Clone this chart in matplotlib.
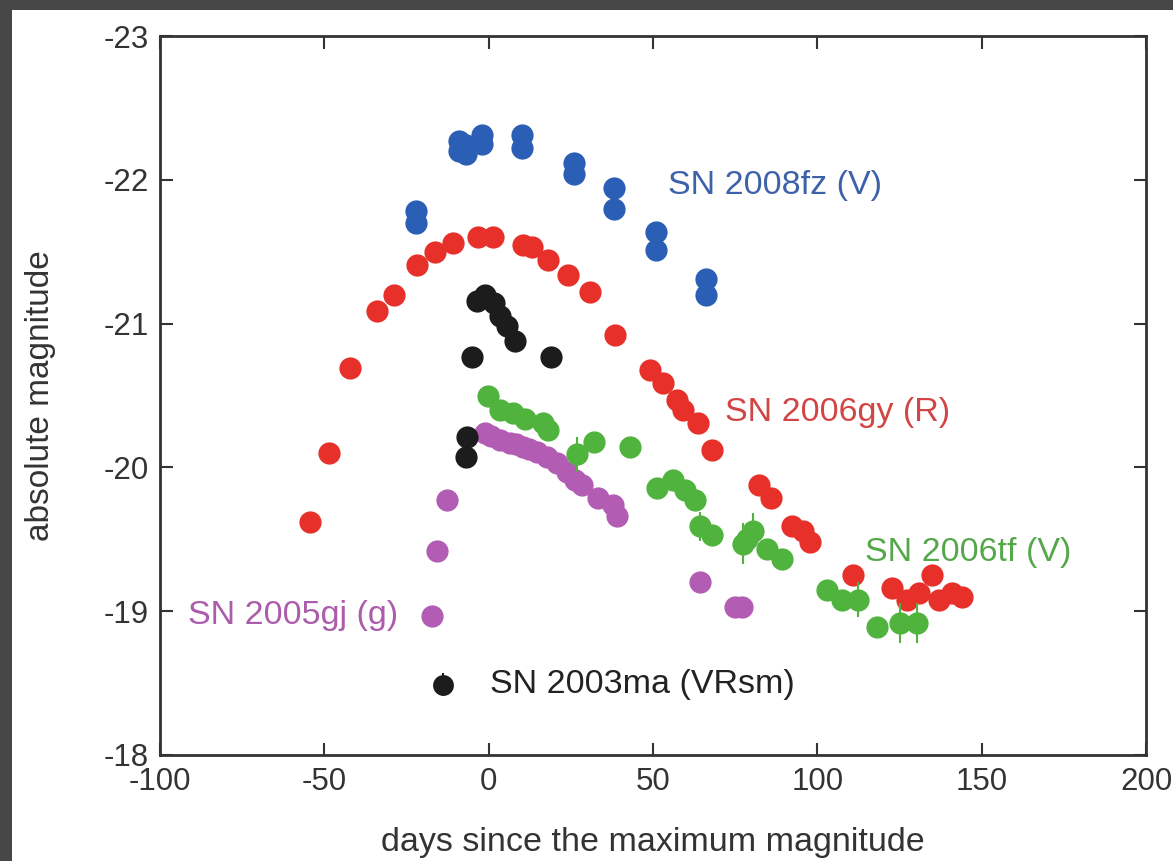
import matplotlib
matplotlib.use("Agg")
import matplotlib.pyplot as plt
from matplotlib.patches import Rectangle

plt.rcParams['font.family'] = ['Liberation Sans', 'DejaVu Sans']

# ---------------- data ----------------
fz_days = [-22, -22, -9, -9, -7, -7, -2, -2, 10, 10, 26, 26, 38, 38, 51, 51, 66, 66]
fz_mag = [-21.78, -21.70, -22.27, -22.20, -22.24, -22.18, -22.31, -22.25, -22.31, -22.22,
          -22.12, -22.04, -21.94, -21.80, -21.64, -21.51, -21.31, -21.20]

gy_days = [-54.5, -48.7, -42.3, -34.1, -28.9, -21.9, -16.4, -11, -3.3, 1.2, 10.3, 13.1, 18,
           24, 30.7, 38.3, 49, 53, 57.2, 59, 63.6, 67.8, 82.4, 86, 92.2, 95.5, 97.7, 110.7,
           122.6, 127.2, 131, 135, 137, 141, 144]
gy_mag = [-19.62, -20.10, -20.69, -21.09, -21.20, -21.41, -21.50, -21.56, -21.60, -21.60,
          -21.55, -21.53, -21.44, -21.34, -21.22, -20.92, -20.68, -20.59, -20.47, -20.40,
          -20.31, -20.12, -19.88, -19.79, -19.59, -19.56, -19.48, -19.25, -19.16, -19.08,
          -19.13, -19.25, -19.08, -19.13, -19.10]

ma_days = [-7, -6.5, -5, -3.5, -1, 1.5, 3.5, 5.5, 8, 19]
ma_mag = [-20.07, -20.21, -20.77, -21.16, -21.20, -21.14, -21.05, -20.98, -20.88, -20.77]

gj_days = [-17.3, -15.8, -12.8, -1.2, 0.8, 3.3, 6.4, 8.3, 10.3, 12.4, 14.6, 17.6, 20.7, 23.7,
           26.2, 28.3, 33.2, 37.7, 38.9, 64.2, 74.8, 77]
gj_mag = [-18.97, -19.42, -19.77, -20.24, -20.22, -20.19, -20.17, -20.16, -20.14, -20.13,
          -20.11, -20.07, -20.03, -19.97, -19.91, -19.88, -19.79, -19.74, -19.66, -19.20,
          -19.03, -19.03]

tf_days = [-0.3, 3.3, 7.3, 11, 16.4, 18, 27, 32.2, 42.9, 51.1, 56, 59.6, 62.7, 64.2, 68.1,
           77.3, 78.5, 80.3, 84.6, 89.4, 102.8, 107.4, 112.3, 118.3, 125, 130.2]
tf_mag = [-20.50, -20.40, -20.38, -20.34, -20.31, -20.26, -20.09, -20.18, -20.14, -19.86,
          -19.91, -19.84, -19.77, -19.59, -19.53, -19.47, -19.50, -19.56, -19.43, -19.36,
          -19.15, -19.08, -19.08, -18.89, -18.92, -18.92]
tf_err = [0.02, 0.02, 0.02, 0.02, 0.02, 0.02, 0.12, 0.03, 0.03, 0.02, 0.02, 0.02, 0.02, 0.10,
          0.03, 0.14, 0.03, 0.12, 0.03, 0.03, 0.02, 0.03, 0.12, 0.03, 0.14, 0.14]

legend_day = [-14]
legend_mag = [-18.49]
legend_err = [0.08]

x_ticks = [-100, -50, 0, 50, 100, 150, 200]
y_ticks = [-23, -22, -21, -20, -19, -18]

# ---------------- figure ----------------
W, H = 1173, 861
fig = plt.figure(figsize=(W / 100, H / 100), dpi=100)
fig.patch.set_facecolor('#474747')
fig.add_artist(Rectangle((12 / W, 0), 1 - 12 / W, 1 - 10 / H,
                         transform=fig.transFigure, facecolor='white',
                         edgecolor='none', zorder=-10))

ax = fig.add_axes([160 / W, 1 - 755 / H, (1146 - 160) / W, (755 - 36) / H])
ax.set_zorder(5)
ax.set_facecolor('white')

ms = 16
c_blue, c_red, c_black, c_green, c_mag = '#2a5fb5', '#e8302a', '#1c1c1c', '#4fb33e', '#b25db3'

ax.plot(fz_days, fz_mag, 'o', color=c_blue, ms=ms, mew=0)
ax.plot(gy_days, gy_mag, 'o', color=c_red, ms=ms, mew=0)
ax.plot(gj_days, gj_mag, 'o', color=c_mag, ms=ms, mew=0)
ax.errorbar(tf_days, tf_mag, yerr=tf_err, fmt='o', color=c_green, ms=ms, mew=0,
            elinewidth=1.5, capsize=4, capthick=1.5)
ax.plot(ma_days, ma_mag, 'o', color=c_black, ms=ms, mew=0)
ax.errorbar(legend_day, legend_mag, yerr=legend_err, fmt='o', color=c_black, ms=ms - 1,
            mew=0, elinewidth=1.5, capsize=3)

fs_lab = 24.5
ax.text(54.5, -21.96, 'SN 2008fz (V)', color='#3d62a8', fontsize=fs_lab, va='center', ha='left')
ax.text(71.8, -20.38, 'SN 2006gy (R)', color='#d24545', fontsize=fs_lab, va='center', ha='left')
ax.text(114.4, -19.41, 'SN 2006tf (V)', color='#55a84a', fontsize=fs_lab, va='center', ha='left')
ax.text(-91.6, -18.97, 'SN 2005gj (g)', color='#ab5cab', fontsize=fs_lab, va='center', ha='left')
ax.text(0.3, -18.49, 'SN 2003ma (VRsm)', color='#222222', fontsize=fs_lab, va='center', ha='left')

ax.set_xlim(-100, 200)
ax.set_ylim(-18, -23)
ax.set_xticks(x_ticks)
ax.set_yticks(y_ticks)
ax.set_xticklabels([str(t) for t in x_ticks])
ax.set_yticklabels([str(t) for t in y_ticks])
ax.tick_params(direction='in', length=9, width=1.5, top=True, right=True,
               labelsize=22.5, colors='#333333')
ax.tick_params(axis='x', pad=9)
ax.tick_params(axis='y', pad=8)
for s in ax.spines.values():
    s.set_linewidth(2)
    s.set_color('#333333')

ax.set_xlabel('days since the maximum magnitude', fontsize=24.5, color='#333333', labelpad=21)
ax.set_ylabel('absolute magnitude', fontsize=24, color='#333333', labelpad=34)

fig.savefig('out.png', dpi=100, facecolor=fig.get_facecolor())
